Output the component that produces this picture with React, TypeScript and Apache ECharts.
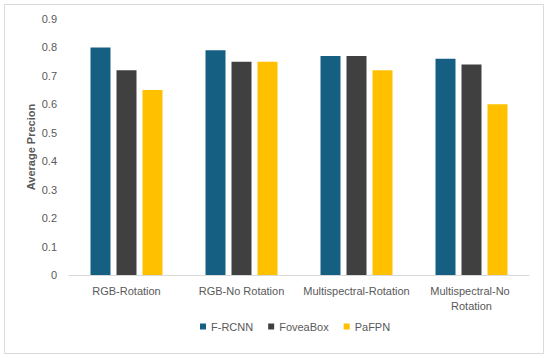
import React, { useEffect, useRef } from "react";
import * as echarts from "echarts";

const categories = ["RGB-Rotation", "RGB-No Rotation", "Multispectral-Rotation", "Multispectral-No Rotation"];
const fRcnn = [0.8, 0.79, 0.77, 0.76];
const foveaBox = [0.72, 0.75, 0.77, 0.74];
const paFpn = [0.65, 0.75, 0.72, 0.6];
const seriesNames = ["F-RCNN", "FoveaBox", "PaFPN"];
const colors = ["#156082", "#404040", "#FFC000"];

export default function App() {
  const ref = useRef<HTMLDivElement>(null);
  useEffect(() => {
    if (!ref.current) return;
    const chart = echarts.init(ref.current, undefined, { renderer: "svg" });
    const font = "'Liberation Sans', Arial, sans-serif";
    const data = [fRcnn, foveaBox, paFpn];
    chart.setOption({
      animation: false,
      textStyle: { fontFamily: font },
      graphic: [
        {
          type: "rect",
          shape: { x: 4.5, y: 4.5, width: 539, height: 349 },
          style: { fill: "none", stroke: "#d9d9d9", lineWidth: 1 },
          silent: true,
        },
      ],
      grid: { left: 69, right: 21, top: 19, bottom: 83 },
      legend: {
        left: 195,
        top: 316,
        icon: "rect",
        itemWidth: 6,
        itemHeight: 6,
        itemGap: 15,
        textStyle: { fontSize: 11, color: "#595959", fontFamily: font },
        data: seriesNames,
      },
      xAxis: {
        type: "category",
        data: categories,
        axisLine: { lineStyle: { color: "#d9d9d9" } },
        axisTick: { show: false },
        axisLabel: {
          color: "#595959",
          fontSize: 11,
          margin: 8,
          interval: 0,
          width: 115,
          overflow: "break",
          lineHeight: 15,
          fontFamily: font,
        },
      },
      yAxis: {
        type: "value",
        min: 0,
        max: 0.9,
        interval: 0.1,
        name: "Average Precion",
        nameLocation: "middle",
        nameGap: 33,
        nameMoveOverlap: false,
        nameTextStyle: { color: "#595959", fontSize: 11, fontWeight: "bold", fontFamily: font },
        splitLine: { show: false },
        axisLine: { show: false },
        axisTick: { show: false },
        axisLabel: {
          color: "#595959",
          fontSize: 11,
          margin: 12,
          fontFamily: font,
          formatter: (v: number) => (v === 0 ? "0" : String(Math.round(v * 10) / 10)),
        },
      },
      series: seriesNames.map((n, i) => ({
        name: n,
        type: "bar",
        data: data[i],
        barWidth: 20,
        barGap: "30%",
        itemStyle: { color: colors[i] },
      })),
    });
    return () => chart.dispose();
  }, []);
  return (
    <div
      ref={ref}
      style={{ position: "absolute", left: 0, top: 0, width: 550, height: 358, background: "#fff" }}
    />
  );
}
